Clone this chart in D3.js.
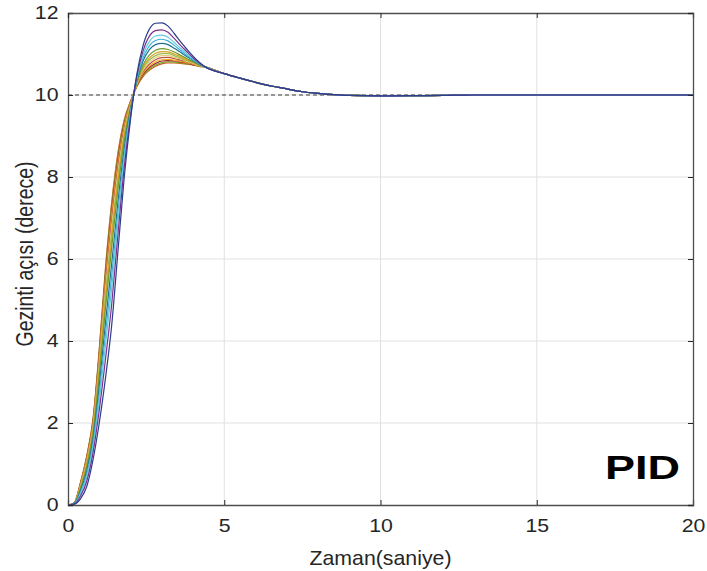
<!DOCTYPE html>
<html>
<head>
<meta charset="utf-8">
<script src="https://cdn.jsdelivr.net/npm/d3@7"></script>
<style>
  body { margin: 0; background: #fff; }
  svg text { font-family: "Liberation Sans", Arial, sans-serif; fill: #262626; }
</style>
</head>
<body>
<svg id="chart" width="707" height="571"></svg>
<script>
// time grid for the rising part and the shared settling tail
const tRise = [0, 0.2, 0.4, 0.6, 0.8, 1.0, 1.2, 1.4, 1.6, 1.8, 2.0, 2.2, 2.4, 2.6, 2.8, 3.0, 3.2, 3.4, 3.6, 3.8, 4.0, 4.2];
const tTail = [4.4, 5, 5.5, 6, 6.5, 7, 7.5, 8, 8.5, 9, 10, 11, 12, 13, 14, 16, 18, 20];
const tailValues = [10.68, 10.52, 10.41, 10.31, 10.22, 10.15, 10.08, 10.04, 10.01, 9.99, 9.98, 9.985, 9.99, 10.0, 10.0, 10.0, 10.0, 10.0];

// rise part of each run, lowest overshoot first
const run01 = [0, 0.05, 0.55, 1.2, 2.1, 3.8, 5.8, 7.4, 8.6, 9.4, 9.85, 10.2, 10.45, 10.6, 10.7, 10.76, 10.78, 10.78, 10.77, 10.75, 10.73, 10.7];
const run02 = [0, 0.05, 0.54, 1.18, 2.07, 3.75, 5.72, 7.31, 8.53, 9.36, 9.84, 10.21, 10.47, 10.63, 10.73, 10.79, 10.81, 10.8, 10.79, 10.76, 10.74, 10.7];
const run03 = [0, 0.05, 0.52, 1.15, 2.03, 3.67, 5.61, 7.19, 8.43, 9.3, 9.82, 10.22, 10.5, 10.67, 10.77, 10.83, 10.84, 10.83, 10.81, 10.78, 10.74, 10.71];
const run04 = [0, 0.05, 0.51, 1.13, 2.0, 3.62, 5.53, 7.1, 8.36, 9.26, 9.81, 10.23, 10.53, 10.7, 10.81, 10.86, 10.87, 10.85, 10.82, 10.79, 10.75, 10.71];
const run05 = [0, 0.05, 0.49, 1.09, 1.95, 3.53, 5.4, 6.95, 8.24, 9.19, 9.78, 10.25, 10.56, 10.75, 10.86, 10.91, 10.92, 10.89, 10.85, 10.81, 10.76, 10.72];
const run06 = [0, 0.04, 0.47, 1.05, 1.9, 3.44, 5.26, 6.8, 8.12, 9.12, 9.76, 10.26, 10.6, 10.8, 10.91, 10.96, 10.96, 10.92, 10.88, 10.82, 10.77, 10.72];
const run07 = [0, 0.04, 0.45, 1.01, 1.85, 3.35, 5.13, 6.65, 8.0, 9.05, 9.74, 10.28, 10.64, 10.85, 10.96, 11.01, 11.01, 10.96, 10.9, 10.84, 10.79, 10.73];
const run08 = [0, 0.04, 0.43, 0.98, 1.8, 3.26, 4.99, 6.5, 7.88, 8.98, 9.72, 10.29, 10.68, 10.9, 11.02, 11.06, 11.05, 11.0, 10.93, 10.86, 10.8, 10.73];
const run09 = [0, 0.04, 0.4, 0.92, 1.73, 3.13, 4.8, 6.29, 7.71, 8.88, 9.68, 10.31, 10.73, 10.97, 11.09, 11.13, 11.11, 11.05, 10.97, 10.89, 10.81, 10.74];
const run10 = [0, 0.04, 0.35, 0.83, 1.6, 2.9, 4.45, 5.9, 7.4, 8.7, 9.63, 10.35, 10.83, 11.1, 11.23, 11.26, 11.23, 11.14, 11.04, 10.94, 10.84, 10.75];
const run11 = [0, 0.03, 0.31, 0.75, 1.5, 2.72, 4.18, 5.6, 7.16, 8.56, 9.58, 10.38, 10.9, 11.2, 11.33, 11.36, 11.32, 11.21, 11.09, 10.97, 10.86, 10.76];
const run12 = [0, 0.03, 0.27, 0.68, 1.4, 2.54, 3.91, 5.3, 6.92, 8.42, 9.54, 10.41, 10.98, 11.3, 11.44, 11.46, 11.41, 11.28, 11.14, 11.01, 10.88, 10.77];
const run13 = [0, 0.02, 0.22, 0.58, 1.27, 2.31, 3.56, 4.91, 6.61, 8.24, 9.48, 10.45, 11.07, 11.43, 11.57, 11.59, 11.53, 11.38, 11.21, 11.06, 10.91, 10.78];
const run14 = [0, 0.02, 0.15, 0.45, 1.1, 2.0, 3.1, 4.4, 6.2, 8.0, 9.4, 10.5, 11.2, 11.6, 11.75, 11.76, 11.68, 11.5, 11.3, 11.12, 10.95, 10.8];
const runs = [run01, run02, run03, run04, run05, run06, run07, run08, run09, run10, run11, run12, run13, run14];

const reference = 10;
const xTicks = [0, 5, 10, 15, 20];
const yTicks = [0, 2, 4, 6, 8, 10, 12];

const colors = ["#D95319", "#77AC30", "#A2142F", "#EDB120", "#c0504d", "#e3cf72",
    "#9bbb59", "#d9a21b", "#6a9a2c", "#1f6f8f", "#3fb0d8", "#62c9dc", "#7E2F8E", "#2c3e8c"];

const margin = {top: 13, right: 14, bottom: 66, left: 68};
const width = 707 - margin.left - margin.right;
const height = 571 - margin.top - margin.bottom;

const svg = d3.select("#chart");
const g = svg.append("g").attr("transform", `translate(${margin.left},${margin.top})`);

const x = d3.scaleLinear().domain([0, 20]).range([0, width]);
const y = d3.scaleLinear().domain([0, 12]).range([height, 0]);

// grid
g.append("g").selectAll("line.vg").data(xTicks.slice(1, -1)).join("line")
    .attr("x1", d => x(d)).attr("x2", d => x(d))
    .attr("y1", 0).attr("y2", height)
    .attr("stroke", "#e1e1e1").attr("stroke-width", 1);
g.append("g").selectAll("line.hg").data(yTicks.slice(1, -1)).join("line")
    .attr("x1", 0).attr("x2", width)
    .attr("y1", d => y(d)).attr("y2", d => y(d))
    .attr("stroke", "#e1e1e1").attr("stroke-width", 1);

// reference line
g.append("line")
    .attr("x1", x(0)).attr("x2", x(20))
    .attr("y1", y(reference)).attr("y2", y(reference))
    .attr("stroke", "#3a3a3a").attr("stroke-width", 1.1)
    .attr("stroke-dasharray", "4,3");

const line = d3.line()
    .x(d => x(d[0]))
    .y(d => y(d[1]))
    .curve(d3.curveMonotoneX);

runs.forEach((r, i) => {
    const pts = tRise.map((t, j) => [t, r[j]]).concat(tTail.map((t, j) => [t, tailValues[j]]));
    g.append("path")
        .datum(pts)
        .attr("fill", "none")
        .attr("stroke", colors[i])
        .attr("stroke-width", 1.2)
        .attr("d", line);
});

// axes (MATLAB style: inward ticks, full box)
const axisColor = "#262626";
const xAxis = g.append("g").attr("transform", `translate(0,${height})`)
    .call(d3.axisBottom(x).tickValues(xTicks).tickSize(-5).tickPadding(14));
const yAxis = g.append("g")
    .call(d3.axisLeft(y).tickValues(yTicks).tickSize(-5).tickPadding(9));
g.append("g").call(d3.axisTop(x).tickValues(xTicks).tickSize(-5).tickFormat(""));
g.append("g").attr("transform", `translate(${width},0)`)
    .call(d3.axisRight(y).tickValues(yTicks).tickSize(-5).tickFormat(""));

g.selectAll(".domain, .tick line").attr("stroke", axisColor).attr("stroke-width", 1);
g.selectAll(".domain").attr("stroke", "#4d4d4d").attr("stroke-width", 1.3);

xAxis.selectAll("text").attr("font-size", 18.5).attr("fill", axisColor)
    .attr("transform", "scale(1.15,1)");
yAxis.selectAll("text").attr("font-size", 18.5).attr("fill", axisColor)
    .attr("x", -9.5 / 1.15).attr("transform", "scale(1.15,1)");

// labels
svg.append("text")
    .attr("x", margin.left + width / 2).attr("y", 565)
    .attr("text-anchor", "middle")
    .attr("font-size", 21)
    .attr("textLength", 142).attr("lengthAdjust", "spacingAndGlyphs")
    .text("Zaman(saniye)");

svg.append("text")
    .attr("transform", "translate(33,254) scale(1.25,1) rotate(-90)")
    .attr("text-anchor", "middle")
    .attr("font-size", 19.5)
    .attr("textLength", 185).attr("lengthAdjust", "spacingAndGlyphs")
    .text("Gezinti açısı (derece)");

svg.append("text")
    .attr("x", 680).attr("y", 479)
    .attr("text-anchor", "end")
    .attr("font-size", 34).attr("font-weight", "bold")
    .attr("fill", "#000")
    .attr("textLength", 75).attr("lengthAdjust", "spacingAndGlyphs")
    .style("fill", "#000")
    .text("PID");
</script>
</body>
</html>
